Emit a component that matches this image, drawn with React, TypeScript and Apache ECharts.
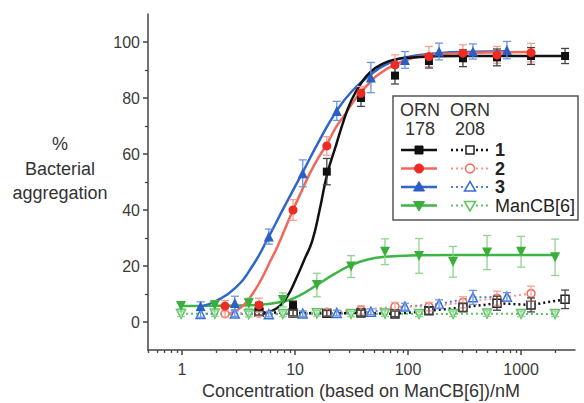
import React, { useEffect, useRef } from 'react';
import * as echarts from 'echarts';

// ---------- data ----------
// ORN178 (filled markers, solid fitted curves)
const conc1_178 = [4.8, 9.6, 19.1, 38.3, 76.6, 153, 306, 612, 1225, 2450];
const val1_178 = [5.5, 6, 53.7, 80, 88, 93.2, 94.2, 94.5, 95, 95];
const err1_178 = [1.5, 1.5, 4.7, 3, 3, 2.5, 3, 3, 3, 2.7];

const conc2_178 = [2.4, 4.8, 9.6, 19.1, 38.3, 76.6, 153, 306, 612, 1225];
const val2_178 = [5.7, 6, 40, 62.9, 81.7, 91.8, 94.8, 96, 95.4, 96.2];
const err2_178 = [2, 2.5, 3.7, 3.3, 2.4, 3.6, 3.6, 3, 3, 3.3];

const conc3_178 = [1.46, 2.93, 5.86, 11.7, 23.4, 46.9, 93.8, 188, 375, 750];
const val3_178 = [5.7, 6.8, 30.5, 53.1, 75.4, 87.3, 93.6, 96.6, 96.6, 97.1];
const err3_178 = [1.5, 2.4, 2.7, 4.8, 3.4, 5.4, 3, 3, 2.7, 3.1];

const concM_178 = [0.98, 1.95, 3.9, 7.8, 15.6, 31.3, 62.5, 125, 250, 500, 1000, 2000];
const valM_178 = [5.7, 6, 6.7, 7.9, 13.2, 19.8, 25.1, 23.6, 21.5, 24.8, 25.1, 23.1];
const errM_178 = [1, 1.5, 1.8, 2.5, 4.2, 3.9, 4.6, 6.2, 5.5, 6.1, 5.5, 6.5];

// ORN208 (open markers, dotted lines)
const conc1_208 = [4.8, 9.6, 19.1, 38.3, 76.6, 153, 306, 612, 1225, 2450];
const val1_208 = [3.5, 3.2, 3.1, 3.2, 2.9, 4, 5.2, 6.7, 6.1, 8.1];
const err1_208 = [1, 1, 1, 1, 1, 1.2, 1.5, 2.5, 2.5, 3.3];

const conc2_208 = [2.4, 4.8, 9.6, 19.1, 38.3, 76.6, 153, 306, 612, 1225];
const val2_208 = [3, 3.2, 3.3, 3.5, 4.3, 5.5, 5.5, 7, 8.5, 10.2];
const err2_208 = [1.2, 1.2, 1.2, 1.2, 1.5, 1.5, 1.5, 2, 2.5, 2.6];

const conc3_208 = [1.46, 2.93, 5.86, 11.7, 23.4, 46.9, 93.8, 188, 375, 750];
const val3_208 = [2.9, 3, 2.8, 3, 3.2, 3.7, 5.5, 6.4, 8.8, 9];
const err3_208 = [1.2, 1, 1, 1, 1, 1, 1.2, 1.5, 2.5, 1.5];

const concM_208 = [0.98, 1.95, 3.9, 7.8, 15.6, 31.3, 62.5, 125, 250, 500, 1000, 2000];
const valM_208 = [2.9, 3, 2.8, 2.9, 3.1, 2.9, 3, 2.9, 2.9, 3, 2.9, 2.9];
const errM_208 = [1, 1, 1, 1, 1, 1, 1, 1, 1, 1, 1, 1];

// Fitted curves (ORN178)
const fit1Conc = [4.9, 6.9, 8.5, 10.1, 12, 14.2, 16.5, 19.3, 23, 27, 31, 38, 47, 60, 77, 110, 153, 306, 612, 1225, 2450];
const fit1Val = [2.7, 4.9, 9, 15, 22, 29, 40, 53, 63, 72, 78.5, 85, 89.5, 92.3, 93.8, 94.5, 94.8, 95, 95, 95, 95];
const fit2Conc = [2.4, 3, 3.6, 4.2, 5, 6, 7, 8.3, 9.6, 11.5, 13.5, 16, 19.1, 23, 27, 32, 38, 46, 55, 77, 110, 153, 306, 612, 1225];
const fit2Val = [2.5, 4, 6.5, 10, 15, 21.5, 27, 34, 40, 47, 53, 58.5, 63.5, 69.5, 73.5, 78, 82, 85.5, 88.5, 92, 94.3, 95.3, 96, 96.3, 96.4];
const fit3Conc = [1.46, 2, 2.93, 4.2, 5.86, 8, 11.7, 16, 23.4, 32, 47, 64, 94, 188, 375, 750];
const fit3Val = [5.5, 7.5, 12, 20, 30.5, 41, 53.5, 64, 75.5, 82.5, 88.5, 92, 94.5, 96, 96.5, 96.7];
const fitMConc = [0.98, 2, 4, 7.8, 11, 15.6, 22, 31.3, 44, 62.5, 125, 250, 500, 1000, 2000];
const fitMVal = [5.7, 5.8, 6, 7.2, 9.5, 13.2, 17, 20.3, 22.3, 23.3, 23.8, 23.9, 23.9, 23.9, 23.9];

// Axis ticks
const X_MIN = 0.5;
const X_MAX = 3000;
const X_MAJOR = [1, 10, 100, 1000];
const X_MINOR = [0.5, 0.6, 0.7, 0.8, 0.9, 2, 3, 4, 5, 6, 7, 8, 9, 20, 30, 40, 50, 60, 70, 80, 90,
  200, 300, 400, 500, 600, 700, 800, 900, 2000];
const Y_MIN = -10;
const Y_MAX = 110;
const Y_MAJOR = [0, 20, 40, 60, 80, 100];
const Y_MINOR = [10, 30, 50, 70, 90];

// ---------- styles ----------
const FONT = '"Liberation Sans", Arial, Helvetica, sans-serif';
const AXIS_COLOR = '#444';
const LABEL_COLOR = '#3a3a3a';

const C = {
  black: { mark: '#111111', line: '#111111', err: '#444444', open: '#222222', dot: '#111111' },
  red: { mark: '#ee2b22', line: '#f2675a', err: '#f5a097', open: '#f26b5b', dot: '#f5958a' },
  blue: { mark: '#2c5fc4', line: '#2f66cc', err: '#6d96e0', open: '#3a6fd6', dot: '#4a7fdc' },
  green: { mark: '#3aae3a', line: '#3db545', err: '#8fd38f', open: '#5cc463', dot: '#5cc463' },
};

const lg = Math.log10;
const toPts = (c: number[], v: number[]) => c.map((x, i) => [lg(x), v[i]]);
const toErr = (c: number[], v: number[], e: number[]) => c.map((x, i) => [lg(x), v[i] - e[i], v[i] + e[i]]);

function errSeries(c: number[], v: number[], e: number[], color: string, z: number) {
  return {
    type: 'custom',
    silent: true,
    z,
    data: toErr(c, v, e),
    encode: { x: 0, y: [1, 2] },
    renderItem: (_p: any, api: any) => {
      const x = api.value(0);
      const lo = api.coord([x, api.value(1)]);
      const hi = api.coord([x, api.value(2)]);
      const w = 4;
      const style = { stroke: color, lineWidth: 1.3 };
      return {
        type: 'group',
        children: [
          { type: 'line', shape: { x1: lo[0], y1: lo[1], x2: hi[0], y2: hi[1] }, style },
          { type: 'line', shape: { x1: hi[0] - w, y1: hi[1], x2: hi[0] + w, y2: hi[1] }, style },
          { type: 'line', shape: { x1: lo[0] - w, y1: lo[1], x2: lo[0] + w, y2: lo[1] }, style },
        ],
      };
    },
  };
}

function fitSeries(c: number[], v: number[], color: string) {
  return {
    type: 'line',
    data: toPts(c, v),
    smooth: 0.5,
    showSymbol: false,
    symbol: 'none',
    silent: true,
    z: 2,
    lineStyle: { color, width: 2.5 },
  };
}

function filledSeries(c: number[], v: number[], symbol: string, size: number, color: string, rotate = 0) {
  return {
    type: 'scatter',
    data: toPts(c, v),
    symbol,
    symbolSize: size,
    symbolRotate: rotate,
    silent: true,
    z: 6,
    itemStyle: { color, opacity: 1 },
  };
}

function dottedSeries(c: number[], v: number[], symbol: string, size: number, color: string, dotColor: string, rotate = 0, width = 2) {
  return {
    type: 'line',
    data: toPts(c, v),
    symbol,
    symbolSize: size,
    symbolRotate: rotate,
    showSymbol: true,
    silent: true,
    z: 3,
    itemStyle: { color: '#ffffff', borderColor: color, borderWidth: 1.5 },
    lineStyle: { color: dotColor, width, type: [2, 3] },
  };
}

// ---------- legend graphic helpers ----------
function sym(kind: string, x: number, y: number, color: string, filled: boolean): any {
  const style = filled
    ? { fill: color, stroke: color, lineWidth: 1 }
    : { fill: '#ffffff', stroke: color, lineWidth: 1.5 };
  if (kind === 'square') return { type: 'rect', shape: { x: x - 4, y: y - 4, width: 8, height: 8 }, style, z: 102 };
  if (kind === 'circle') return { type: 'circle', shape: { cx: x, cy: y, r: 4.5 }, style, z: 102 };
  if (kind === 'up') return { type: 'polygon', shape: { points: [[x, y - 5.5], [x + 5.5, y + 4], [x - 5.5, y + 4]] }, style, z: 102 };
  return { type: 'polygon', shape: { points: [[x - 5.5, y - 4], [x + 5.5, y - 4], [x, y + 5.5]] }, style, z: 102 };
}

function legendRow(y: number, kind: string, col: any, label: string, bold: boolean, dotW: number): any[] {
  return [
    { type: 'line', shape: { x1: 401, y1: y, x2: 437, y2: y }, style: { stroke: col.line, lineWidth: 2.5 }, z: 101 },
    sym(kind, 419, y, col.mark, true),
    { type: 'line', shape: { x1: 451, y1: y, x2: 488, y2: y }, style: { stroke: col.dot, lineWidth: dotW, lineDash: [2, 3] }, z: 101 },
    sym(kind, 470, y, col.open, false),
    {
      type: 'text', x: 495, y, z: 102,
      style: { text: label, fill: '#222', font: `${bold ? 'bold ' : ''}18px ${FONT}`, textAlign: 'left', textVerticalAlign: 'middle' },
    },
  ];
}

export default function App() {
  const ref = useRef<HTMLDivElement>(null);

  useEffect(() => {
    document.body.style.margin = '0';
    if (!ref.current) return;
    const chart = echarts.init(ref.current, undefined, { renderer: 'svg' });

    const txt = (text: string, x: number, y: number, size: number, align = 'center', weight = 'normal') => ({
      type: 'text', x, y, z: 100,
      style: { text, fill: '#333', font: `${weight} ${size}px ${FONT}`, textAlign: align, textVerticalAlign: 'middle' },
    });

    const option: any = {
      animation: false,
      backgroundColor: '#ffffff',
      grid: { left: 148, right: 9, top: 14, bottom: 53, outerBoundsMode: 'none' },
      xAxis: [
        {
          type: 'value', min: lg(X_MIN), max: lg(X_MAX), position: 'bottom',
          axisLine: { show: true, onZero: false, lineStyle: { color: AXIS_COLOR, width: 1.5 } },
          axisTick: { show: true, customValues: X_MAJOR.map(lg), length: 5, inside: false, lineStyle: { color: AXIS_COLOR, width: 1.5 } },
          axisLabel: {
            show: true, customValues: X_MAJOR.map(lg), margin: 11,
            formatter: (v: number) => String(Math.round(Math.pow(10, v))),
            color: LABEL_COLOR, fontSize: 16, fontFamily: FONT,
          },
          splitLine: { show: false },
        },
        {
          type: 'value', min: lg(X_MIN), max: lg(X_MAX), position: 'bottom',
          axisLine: { show: false, onZero: false },
          axisTick: { show: true, customValues: X_MINOR.map(lg), length: 3, inside: false, lineStyle: { color: AXIS_COLOR, width: 1.3 } },
          axisLabel: { show: false },
          splitLine: { show: false },
        },
      ],
      yAxis: [
        {
          type: 'value', min: Y_MIN, max: Y_MAX, position: 'left',
          axisLine: { show: true, onZero: false, lineStyle: { color: AXIS_COLOR, width: 1.5 } },
          axisTick: { show: true, customValues: Y_MAJOR, length: 5, lineStyle: { color: AXIS_COLOR, width: 1.5 } },
          axisLabel: { show: true, customValues: Y_MAJOR, margin: 8, color: LABEL_COLOR, fontSize: 16, fontFamily: FONT },
          splitLine: { show: false },
        },
        {
          type: 'value', min: Y_MIN, max: Y_MAX, position: 'left',
          axisLine: { show: false, onZero: false },
          axisTick: { show: true, customValues: Y_MINOR, length: 3, lineStyle: { color: AXIS_COLOR, width: 1.3 } },
          axisLabel: { show: false },
          splitLine: { show: false },
        },
      ],
      series: [
        // fitted curves
        fitSeries(fitMConc, fitMVal, C.green.line),
        fitSeries(fit3Conc, fit3Val, C.blue.line),
        fitSeries(fit2Conc, fit2Val, C.red.line),
        fitSeries(fit1Conc, fit1Val, C.black.line),
        // ORN208 dotted
        dottedSeries(concM_208, valM_208, 'triangle', 9, C.green.open, C.green.dot, 180, 2),
        dottedSeries(conc3_208, val3_208, 'triangle', 9, C.blue.open, C.blue.dot, 0, 2),
        dottedSeries(conc2_208, val2_208, 'circle', 8, C.red.open, C.red.dot, 0, 2),
        dottedSeries(conc1_208, val1_208, 'rect', 8, C.black.open, C.black.dot, 0, 2.5),
        // error bars
        errSeries(concM_208, valM_208, errM_208, C.green.err, 4),
        errSeries(conc3_208, val3_208, err3_208, C.blue.err, 4),
        errSeries(conc2_208, val2_208, err2_208, C.red.err, 4),
        errSeries(conc1_208, val1_208, err1_208, C.black.err, 4),
        errSeries(concM_178, valM_178, errM_178, C.green.err, 5),
        errSeries(conc3_178, val3_178, err3_178, C.blue.err, 5),
        errSeries(conc2_178, val2_178, err2_178, C.red.err, 5),
        errSeries(conc1_178, val1_178, err1_178, C.black.err, 5),
        // ORN178 markers
        filledSeries(concM_178, valM_178, 'triangle', 10, C.green.mark, 180),
        filledSeries(conc1_178, val1_178, 'rect', 8, C.black.mark),
        filledSeries(conc2_178, val2_178, 'circle', 9, C.red.mark),
        filledSeries(conc3_178, val3_178, 'triangle', 10, C.blue.mark),
      ],
      graphic: [
        // y title
        txt('%', 60, 144, 18),
        txt('Bacterial', 60, 169, 18),
        txt('aggregation', 60, 193, 18),
        // x title
        txt('Concentration (based on ManCB[6])/nM', 361, 391, 18),
        // legend box
        { type: 'rect', shape: { x: 393, y: 96, width: 185, height: 124 }, style: { fill: '#ffffff', stroke: '#555', lineWidth: 1.5 }, z: 100 },
        txt('ORN', 420, 109.5, 18),
        txt('178', 420, 129, 18),
        txt('ORN', 470, 109.5, 18),
        txt('208', 470, 129, 18),
        ...legendRow(150, 'square', C.black, '1', true, 2.5),
        ...legendRow(168.5, 'circle', C.red, '2', true, 2),
        ...legendRow(187, 'up', C.blue, '3', true, 2),
        ...legendRow(205.5, 'down', C.green, 'ManCB[6]', false, 2),
      ],
    };

    chart.setOption(option);
    return () => chart.dispose();
  }, []);

  return <div ref={ref} style={{ width: 584, height: 403 }} />;
}
